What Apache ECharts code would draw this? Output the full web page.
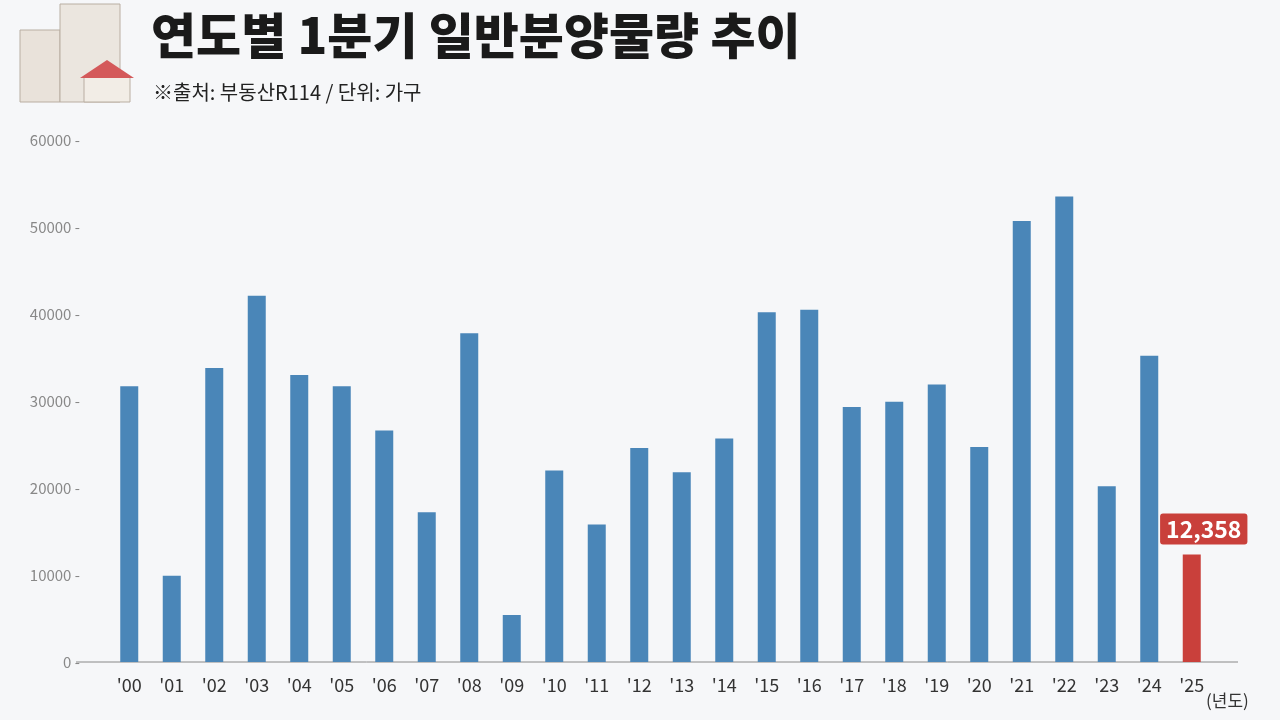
<!DOCTYPE html>
<html><head><meta charset="utf-8">
<script src="https://cdn.jsdelivr.net/npm/echarts@6/dist/echarts.min.js"></script>
<style>html,body{margin:0;padding:0;background:#f6f7f9}#c{width:1280px;height:720px}</style>
</head><body><div id="c"></div>
<script>
const categories = ["'00","'01","'02","'03","'04","'05","'06","'07","'08","'09","'10","'11","'12","'13","'14","'15","'16","'17","'18","'19","'20","'21","'22","'23","'24","'25"];
const values = [31700,9900,33800,42100,33000,31700,26600,17200,37800,5400,22000,15800,24600,21800,25700,40200,40500,29300,29900,31900,24700,50700,53500,20200,35200,12358];
const yTicks = [0,10000,20000,30000,40000,50000,60000];
const chart = echarts.init(document.getElementById('c'));
const font = '"Noto Sans CJK KR","Noto Sans",sans-serif';
chart.setOption({
  backgroundColor:'#f6f7f9',
  textStyle:{fontFamily:font},
  grid:{left:108,width:1105,top:140,bottom:58},
  title:[
    {text:'연도별 1분기 일반분양물량 추이',left:146,top:6,textStyle:{fontSize:49,fontWeight:900,color:'#1a1a1a',fontFamily:font}},
    {text:'※출처: 부동산R114 / 단위: 가구',left:148,top:77,textStyle:{fontSize:20,fontWeight:'normal',color:'#222',fontFamily:font}}
  ],
  graphic:[
    {type:'rect',shape:{x:20,y:30,width:40,height:72},style:{fill:'#e9e2da',stroke:'#b9aea2'}},
    {type:'rect',shape:{x:60,y:4,width:60,height:98},style:{fill:'#ebe6df',stroke:'#b9aea2'}},
    {type:'rect',shape:{x:84,y:76,width:46,height:26},style:{fill:'#f2ede6',stroke:'#b9aea2'}},
    {type:'polygon',shape:{points:[[80,78],[107,60],[134,78]]},style:{fill:'#d4595a'}},
    {type:'line',shape:{x1:76,y1:662,x2:1238,y2:662},style:{stroke:'#888',lineWidth:1}},
    {type:'text',left:1206,top:692,style:{text:'(년도)',fontSize:17,fill:'#333',fontFamily:font}}
  ],
  xAxis:{type:'category',data:categories,axisLine:{show:false},axisTick:{show:false},
    axisLabel:{fontSize:18,color:'#333',margin:14}},
  yAxis:{type:'value',min:0,max:60000,interval:10000,splitLine:{show:false},
    axisLabel:{formatter:v=>v+' -',fontSize:15,color:'#888',margin:28}},
  series:[{type:'bar',barWidth:18,
    data:values.map((v,i)=>i===values.length-1?{value:v,itemStyle:{color:'#c9403b'},
      label:{show:true,position:'top',distance:10,offset:[12,0],formatter:'12,358',color:'#fff',fontSize:23,fontWeight:'bold',
        backgroundColor:'#c9403b',padding:[4,6],borderRadius:3}}:v),
    itemStyle:{color:'#4a86b8'}}]
});
</script></body></html>
